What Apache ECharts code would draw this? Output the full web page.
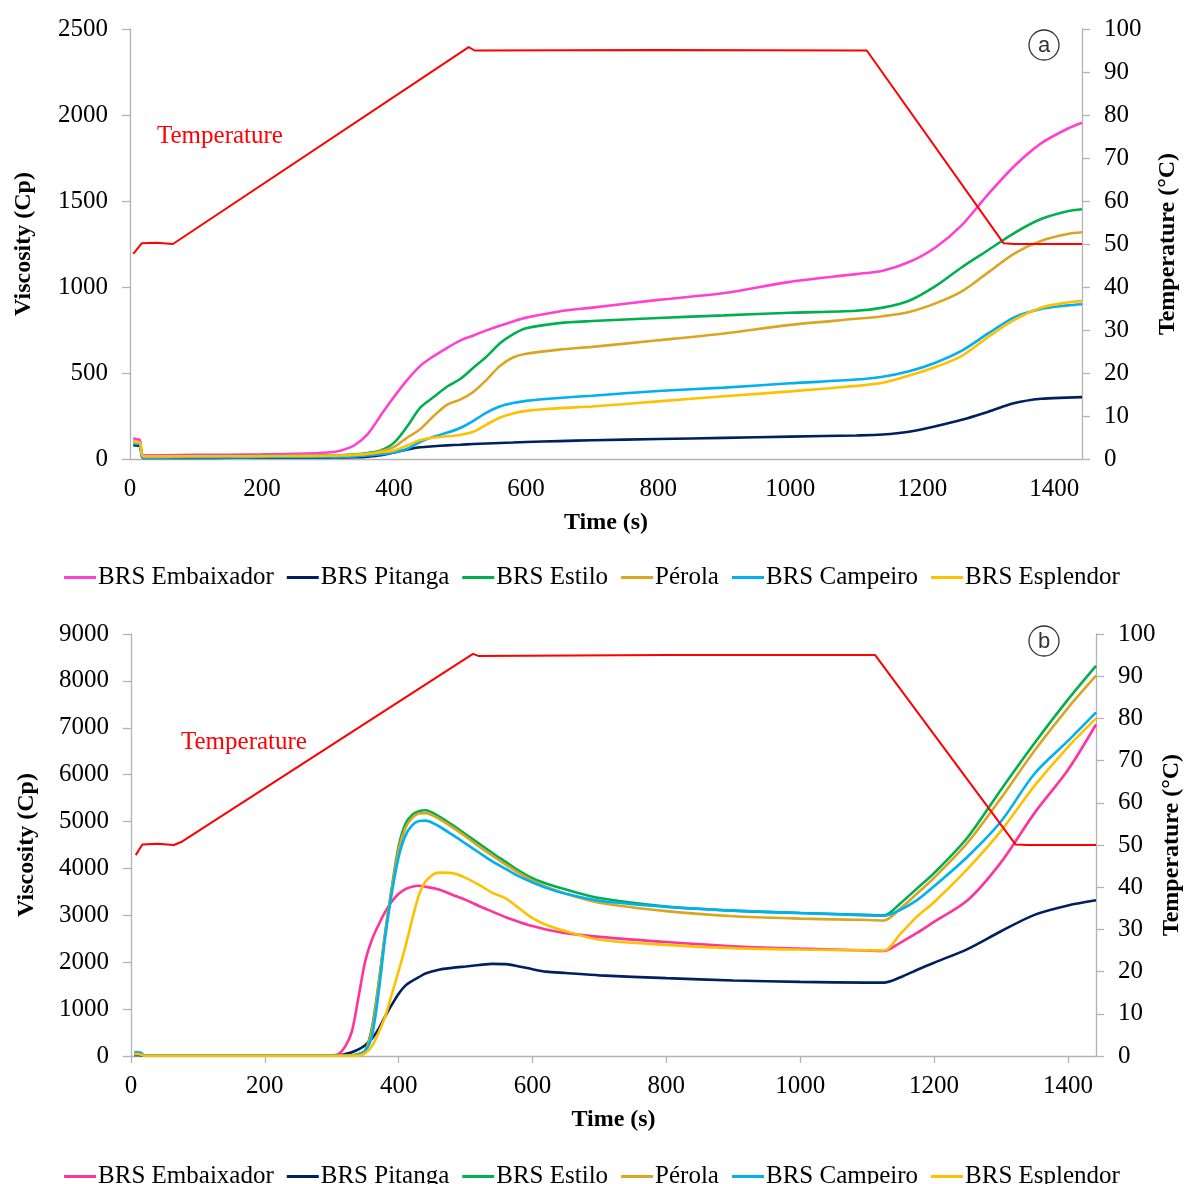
<!DOCTYPE html>
<html><head><meta charset="utf-8">
<script src="https://cdn.jsdelivr.net/npm/echarts@6/dist/echarts.min.js"></script>
<style>html,body{margin:0;padding:0;background:#fff;}#c1{position:absolute;left:0;top:0;width:1184px;height:600px;}#c2{position:absolute;left:0;top:600px;width:1184px;height:584px;}</style>
</head><body><div id="c1"></div><div id="c2"></div>
<script>
// ---------- DATA: chart (a) ----------
const seriesNames = ['BRS Embaixador','BRS Pitanga','BRS Estilo','Pérola','BRS Campeiro','BRS Esplendor'];
const timeA = [5,10,15,20,50,100,150,200,250,300,320,340,360,380,400,420,440,460,480,500,520,540,560,580,600,650,700,800,900,1000,1100,1140,1180,1220,1260,1300,1340,1380,1420,1442];
const embaixadorA = [120,115,110,22,22,24,25,27,30,38,50,80,145,255,362,460,543,598,645,688,718,748,775,800,822,858,880,925,965,1030,1075,1095,1145,1230,1360,1540,1705,1835,1920,1955];
const pitangaA    = [80,78,75,6,6,6,7,7,7,8,9,10,14,22,38,55,68,74,79,83,87,90,93,96,99,104,109,116,123,130,137,142,158,190,228,275,325,350,357,360];
const estiloA     = [100,97,95,15,16,17,17,18,19,20,22,27,35,50,95,190,300,360,420,465,530,595,672,725,760,790,802,820,835,850,862,880,920,1005,1115,1215,1315,1395,1440,1452];
const perolaA     = [100,97,95,13,13,14,14,15,16,18,20,24,30,45,70,125,175,250,315,345,390,460,540,590,612,636,652,690,730,780,815,830,855,905,975,1085,1195,1268,1308,1318];
const campeiroA   = [90,88,85,8,8,9,9,10,10,11,12,15,20,28,38,60,100,130,152,180,222,270,305,325,338,355,368,395,415,440,462,478,510,560,630,730,825,872,893,900];
const esplendorA  = [100,97,95,15,15,16,16,17,18,19,20,24,30,40,50,78,110,125,132,140,158,200,240,265,280,296,305,335,365,393,425,443,485,535,600,710,810,880,910,918];
const tempTimeA = [5,18,40,65,513,522,800,1116,1323,1340,1442];
const tempA     = [47.7,50.2,50.3,50.0,95.8,95.0,95.1,95.0,50.2,50.0,50.0];

// ---------- DATA: chart (b) ----------
const timeB = [5,10,15,20,50,100,200,300,310,320,330,340,350,360,370,380,390,400,410,420,430,440,460,480,500,520,540,560,580,600,620,650,700,800,900,1000,1100,1125,1150,1175,1200,1250,1300,1350,1400,1442];
const embaixadorB = [40,40,30,10,10,10,10,15,40,200,520,1260,2020,2480,2800,3080,3300,3460,3560,3610,3630,3610,3550,3440,3330,3200,3080,2960,2860,2770,2700,2620,2540,2430,2340,2290,2250,2240,2420,2630,2860,3320,4130,5180,6100,7070];
const pitangaB    = [20,20,15,5,5,5,5,5,10,40,80,140,230,370,580,850,1100,1330,1500,1600,1680,1760,1840,1880,1910,1940,1965,1960,1910,1850,1800,1770,1720,1660,1610,1580,1565,1565,1680,1840,1990,2280,2660,3010,3210,3320];
const estiloB     = [60,60,40,5,5,5,5,5,5,10,15,40,120,600,1550,2650,3620,4480,4950,5140,5220,5240,5110,4930,4730,4530,4330,4140,3950,3790,3680,3550,3370,3190,3100,3050,3010,3000,3260,3580,3900,4660,5680,6670,7600,8320];
const perolaB     = [50,50,40,5,5,5,5,5,5,10,15,35,110,540,1500,2620,3580,4400,4860,5080,5170,5180,5060,4880,4680,4470,4270,4080,3900,3740,3610,3460,3270,3090,2980,2930,2900,2890,3150,3470,3800,4550,5500,6510,7420,8110];
const campeiroB   = [80,80,70,10,10,10,10,10,10,12,15,30,100,420,1350,2550,3500,4250,4700,4920,5010,5020,4900,4720,4530,4340,4150,3990,3830,3700,3590,3460,3310,3180,3100,3050,3000,2990,3120,3330,3620,4250,5000,6020,6720,7330];
const esplendorB  = [40,40,30,5,5,5,5,5,5,6,8,10,60,210,500,850,1330,1820,2330,2900,3420,3720,3910,3900,3800,3650,3480,3360,3150,2940,2800,2660,2480,2370,2300,2270,2255,2250,2610,2980,3280,3990,4800,5760,6590,7200];
const tempTimeB = [7,17,40,64,75,511,519,800,1112,1322,1340,1442];
const tempB     = [47.6,50.1,50.3,50.0,50.7,95.3,94.8,95.0,95.0,50.1,50.0,50.0];

const xTicks = [0,200,400,600,800,1000,1200,1400];

// ---------- STYLE ----------
const FONT = "'Liberation Serif','Times New Roman',serif";
const AX = '#b3b3b3';
const colorsA = ['#FF40D0','#002060','#00B050','#DAA520','#00B0F0','#FFC000'];
const colorsB = ['#FF3399','#002060','#00B050','#DAA520','#00B0F0','#FFC000'];

function pairs(t, v){ return t.map((x,i)=>[x, v[i]]); }
function vSeries(name,color,t,v){
  return {type:'line',name,data:pairs(t,v),yAxisIndex:0,smooth:0.3,symbol:'none',
    lineStyle:{width:2.6,color},itemStyle:{color},emphasis:{disabled:true},z:2};
}
function tSeries(t,v){
  return {type:'line',name:'Temperature',data:pairs(t,v),yAxisIndex:1,symbol:'none',
    lineStyle:{width:2,color:'#FF0000'},itemStyle:{color:'#FF0000'},emphasis:{disabled:true},z:3};
}
const lbl = {fontFamily:FONT,fontSize:25,color:'#000'};
const nameStyle = {fontFamily:FONT,fontSize:24,fontWeight:'bold',color:'#000'};
const plain = v => String(v);

function build(cfg){
  return {
    animation:false,
    grid:{left:cfg.left,top:cfg.top,width:cfg.width,height:cfg.height,containLabel:false,outerBoundsMode:'none'},
    legend:{data:seriesNames,top:cfg.legendTop,left:'center',icon:'rect',itemWidth:32,itemHeight:3,itemGap:13,
      textStyle:{fontFamily:FONT,fontSize:25,color:'#000',padding:[0,0,0,-3]},selectedMode:false},
    xAxis:{type:'value',min:0,max:1442,interval:200,
      axisLine:{lineStyle:{color:AX,width:1.3}},
      axisTick:{show:cfg.xTick,length:7,lineStyle:{color:AX,width:1.3}},
      splitLine:{show:false},
      axisLabel:Object.assign({margin:cfg.xMargin,showMaxLabel:false,formatter:v=>xTicks.includes(v)?String(v):''},lbl),
      name:'Time (s)',nameLocation:'middle',nameGap:cfg.xNameGap,nameMoveOverlap:false,nameTextStyle:nameStyle},
    yAxis:[
      {type:'value',min:0,max:cfg.vmax,interval:cfg.vint,position:'left',
       axisLine:{show:true,lineStyle:{color:AX,width:1.3}},
       axisTick:{show:true,length:8,lineStyle:{color:AX,width:1.3}},
       splitLine:{show:false},axisLabel:Object.assign({margin:22,formatter:plain},lbl),
       name:'Viscosity (Cp)',nameLocation:'middle',nameRotate:90,nameGap:cfg.lGap,nameMoveOverlap:false,nameTextStyle:nameStyle},
      {type:'value',min:0,max:100,interval:10,position:'right',
       axisLine:{show:true,lineStyle:{color:AX,width:1.3}},
       axisTick:{show:true,length:8,lineStyle:{color:AX,width:1.3}},
       splitLine:{show:false},axisLabel:Object.assign({margin:22,formatter:plain},lbl),
       name:'Temperature (°C)',nameLocation:'middle',nameRotate:90,nameGap:cfg.rGap,nameMoveOverlap:false,nameTextStyle:nameStyle}
    ],
    graphic:[
      {type:'text',left:cfg.tempLabel[0],top:cfg.tempLabel[1],style:{text:'Temperature',font:'25px '+FONT,fill:'#FF0000'}},
      {type:'circle',shape:{cx:cfg.circ[0],cy:cfg.circ[1],r:15},style:{fill:'none',stroke:'#333',lineWidth:1.3}},
      {type:'text',x:cfg.circ[0],y:cfg.circ[1]+1,style:{text:cfg.letter,font:"22px 'Liberation Sans',Arial,sans-serif",fill:'#333',align:'center',verticalAlign:'middle'}}
    ],
    series:cfg.series
  };
}

const c1 = echarts.init(document.getElementById('c1'),null,{renderer:'canvas'});
c1.setOption(build({left:130,top:29,width:952,height:430,legendTop:560,xTick:false,xMargin:18,xNameGap:52,
  vmax:2500,vint:500,lGap:94,rGap:74,tempLabel:[157,124],circ:[1044,45],letter:'a',
  series:[vSeries(seriesNames[0],colorsA[0],timeA,embaixadorA),vSeries(seriesNames[1],colorsA[1],timeA,pitangaA),
    vSeries(seriesNames[2],colorsA[2],timeA,estiloA),vSeries(seriesNames[3],colorsA[3],timeA,perolaA),
    vSeries(seriesNames[4],colorsA[4],timeA,campeiroA),vSeries(seriesNames[5],colorsA[5],timeA,esplendorA),
    tSeries(tempTimeA,tempA)]}));

const c2 = echarts.init(document.getElementById('c2'),null,{renderer:'canvas'});
c2.setOption(build({left:131,top:34,width:965,height:422,legendTop:559,xTick:true,xMargin:18,xNameGap:52,
  vmax:9000,vint:1000,lGap:92,rGap:64,tempLabel:[181,130],circ:[1044,41],letter:'b',
  series:[vSeries(seriesNames[0],colorsB[0],timeB,embaixadorB),vSeries(seriesNames[1],colorsB[1],timeB,pitangaB),
    vSeries(seriesNames[2],colorsB[2],timeB,estiloB),vSeries(seriesNames[3],colorsB[3],timeB,perolaB),
    vSeries(seriesNames[4],colorsB[4],timeB,campeiroB),vSeries(seriesNames[5],colorsB[5],timeB,esplendorB),
    tSeries(tempTimeB,tempB)]}));
</script></body></html>
